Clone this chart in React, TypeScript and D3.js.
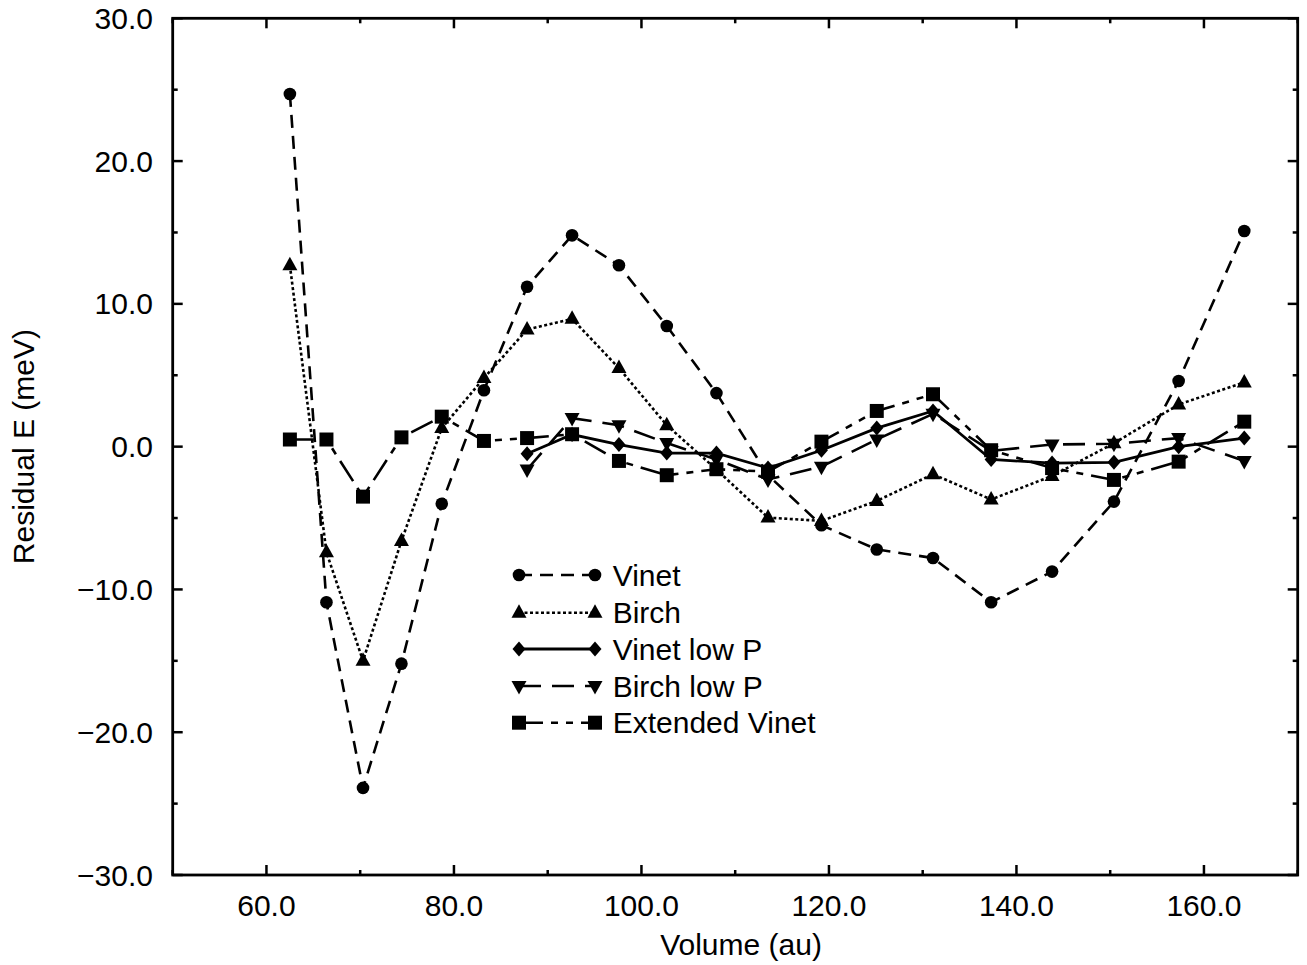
import React from "react";
import * as d3 from "d3";

const volumes = [62.5, 66.4, 70.3, 74.4, 78.7, 83.2, 87.8, 92.6, 97.6, 102.7, 108.0, 113.5, 119.2, 125.1, 131.1, 137.3, 143.8, 150.4, 157.3, 164.3];
const vinet = [24.7, -10.9, -23.9, -15.2, -4.0, 3.95, 11.2, 14.8, 12.7, 8.45, 3.75, -2.0, -5.5, -7.2, -7.8, -10.9, -8.75, -3.85, 4.6, 15.1];
const birch = [12.7, -7.4, -15.0, -6.6, 1.3, 4.8, 8.2, 8.95, 5.5, 1.5, -1.6, -4.97, -5.2, -3.8, -1.93, -3.7, -2.05, 0.24, 2.95, 4.5];
const lowVolumes = [87.8, 92.6, 97.6, 102.7, 108.0, 113.5, 119.2, 125.1, 131.1, 137.3, 143.8, 150.4, 157.3, 164.3];
const vinetLowP = [-0.5, 0.85, 0.15, -0.45, -0.45, -1.5, -0.25, 1.3, 2.5, -0.9, -1.15, -1.1, 0.0, 0.6];
const birchLowP = [-1.6, 2.0, 1.5, 0.25, -0.9, -2.3, -1.4, 0.5, 2.3, -0.3, 0.15, 0.2, 0.6, -1.0];
const extVinet = [0.5, 0.5, -3.5, 0.65, 2.1, 0.4, 0.6, 0.87, -1.0, -2.0, -1.58, -1.75, 0.35, 2.5, 3.67, -0.25, -1.5, -2.33, -1.05, 1.75];

const xTicks = [60, 80, 100, 120, 140, 160];
const xMinor = [50, 70, 90, 110, 130, 150, 170];
const yTicks = [-30, -20, -10, 0, 10, 20, 30];
const yMinor = [-25, -15, -5, 5, 15, 25];

type Marker = "circle" | "triangle" | "diamond" | "triangleDown" | "square";
const seriesDefs: { name: string; xs: number[]; ys: number[]; dash: string; marker: Marker; width: number }[] = [
  { name: "Vinet", xs: volumes, ys: vinet, dash: "13,8", marker: "circle", width: 2.6 },
  { name: "Birch", xs: volumes, ys: birch, dash: "3,2.5", marker: "triangle", width: 2.6 },
  { name: "Vinet low P", xs: lowVolumes, ys: vinetLowP, dash: "", marker: "diamond", width: 2.8 },
  { name: "Birch low P", xs: lowVolumes, ys: birchLowP, dash: "22,11", marker: "triangleDown", width: 2.6 },
  { name: "Extended Vinet", xs: volumes, ys: extVinet, dash: "24,8,7,8,7,8", marker: "square", width: 2.6 },
];

const W = 1307, H = 965;
const L = 172.7, R = 1297.7, T = 18.3, B = 875;
const FONT = "'Liberation Sans', Arial, sans-serif";
const FS = 30;

function markerPath(m: Marker): string {
  switch (m) {
    case "circle": return d3.symbol(d3.symbolCircle, 125)()!;
    case "square": return "M-7,-7H7V7H-7Z";
    case "triangle": return "M0,-8.5L7.5,5L-7.5,5Z";
    case "triangleDown": return "M0,8.5L7.5,-5L-7.5,-5Z";
    case "diamond": return "M0,-7.5L6.5,0L0,7.5L-6.5,0Z";
  }
}

export default function App() {
  const x = d3.scaleLinear().domain([50, 170]).range([L, R]);
  const y = d3.scaleLinear().domain([-30, 30]).range([B, T]);
  const line = d3.line<[number, number]>().x(d => x(d[0])).y(d => y(d[1]));

  const legendY = [575, 612.7, 649, 686, 722.7];
  const legX1 = 519, legX2 = 595, legText = 612.7;

  return (
    <svg width={W} height={H} style={{ position: "absolute", left: 0, top: 0, background: "#fff" }}>
      <rect x={0} y={0} width={W} height={H} fill="#fff" />
      {seriesDefs.map(s => (
        <g key={s.name}>
          <path d={line(s.xs.map((v, i) => [v, s.ys[i]] as [number, number]))!} fill="none" stroke="#000" strokeWidth={s.width} strokeDasharray={s.dash || undefined} />
          {s.xs.map((v, i) => (
            <path key={i} d={markerPath(s.marker)} transform={`translate(${x(v)},${y(s.ys[i])})`} fill="#000" />
          ))}
        </g>
      ))}
      <rect x={L} y={T} width={R - L} height={B - T} fill="none" stroke="#000" strokeWidth={2.8} />
      {xTicks.map(t => (
        <g key={"xt" + t}>
          <line x1={x(t)} x2={x(t)} y1={B} y2={B - 10} stroke="#000" strokeWidth={2.5} />
          <line x1={x(t)} x2={x(t)} y1={T} y2={T + 10} stroke="#000" strokeWidth={2.5} />
          <text x={x(t)} y={916} textAnchor="middle" fontFamily={FONT} fontSize={FS}>{t.toFixed(1)}</text>
        </g>
      ))}
      {xMinor.map(t => (
        <g key={"xm" + t}>
          <line x1={x(t)} x2={x(t)} y1={B} y2={B - 5} stroke="#000" strokeWidth={2.5} />
          <line x1={x(t)} x2={x(t)} y1={T} y2={T + 5} stroke="#000" strokeWidth={2.5} />
        </g>
      ))}
      {yTicks.map(t => (
        <g key={"yt" + t}>
          <line x1={L} x2={L + 10} y1={y(t)} y2={y(t)} stroke="#000" strokeWidth={2.5} />
          <line x1={R} x2={R - 10} y1={y(t)} y2={y(t)} stroke="#000" strokeWidth={2.5} />
          <text x={153} y={y(t) + 10.5} textAnchor="end" fontFamily={FONT} fontSize={FS}>{t < 0 ? "\u2212" + Math.abs(t).toFixed(1) : t.toFixed(1)}</text>
        </g>
      ))}
      {yMinor.map(t => (
        <g key={"ym" + t}>
          <line x1={L} x2={L + 5} y1={y(t)} y2={y(t)} stroke="#000" strokeWidth={2.5} />
          <line x1={R} x2={R - 5} y1={y(t)} y2={y(t)} stroke="#000" strokeWidth={2.5} />
        </g>
      ))}
      <text x={741} y={955} textAnchor="middle" fontFamily={FONT} fontSize={FS}>Volume (au)</text>
      <text transform={`translate(34,${(T + B) / 2}) rotate(-90)`} textAnchor="middle" fontFamily={FONT} fontSize={FS}>Residual E (meV)</text>
      {seriesDefs.map((s, i) => (
        <g key={"leg" + s.name}>
          <line x1={legX1} x2={legX2} y1={legendY[i]} y2={legendY[i]} stroke="#000" strokeWidth={s.width} strokeDasharray={s.dash || undefined} />
          <path d={markerPath(s.marker)} transform={`translate(${legX1},${legendY[i]})`} fill="#000" />
          <path d={markerPath(s.marker)} transform={`translate(${legX2},${legendY[i]})`} fill="#000" />
          <text x={legText} y={legendY[i] + 10.5} fontFamily={FONT} fontSize={FS}>{s.name}</text>
        </g>
      ))}
    </svg>
  );
}
